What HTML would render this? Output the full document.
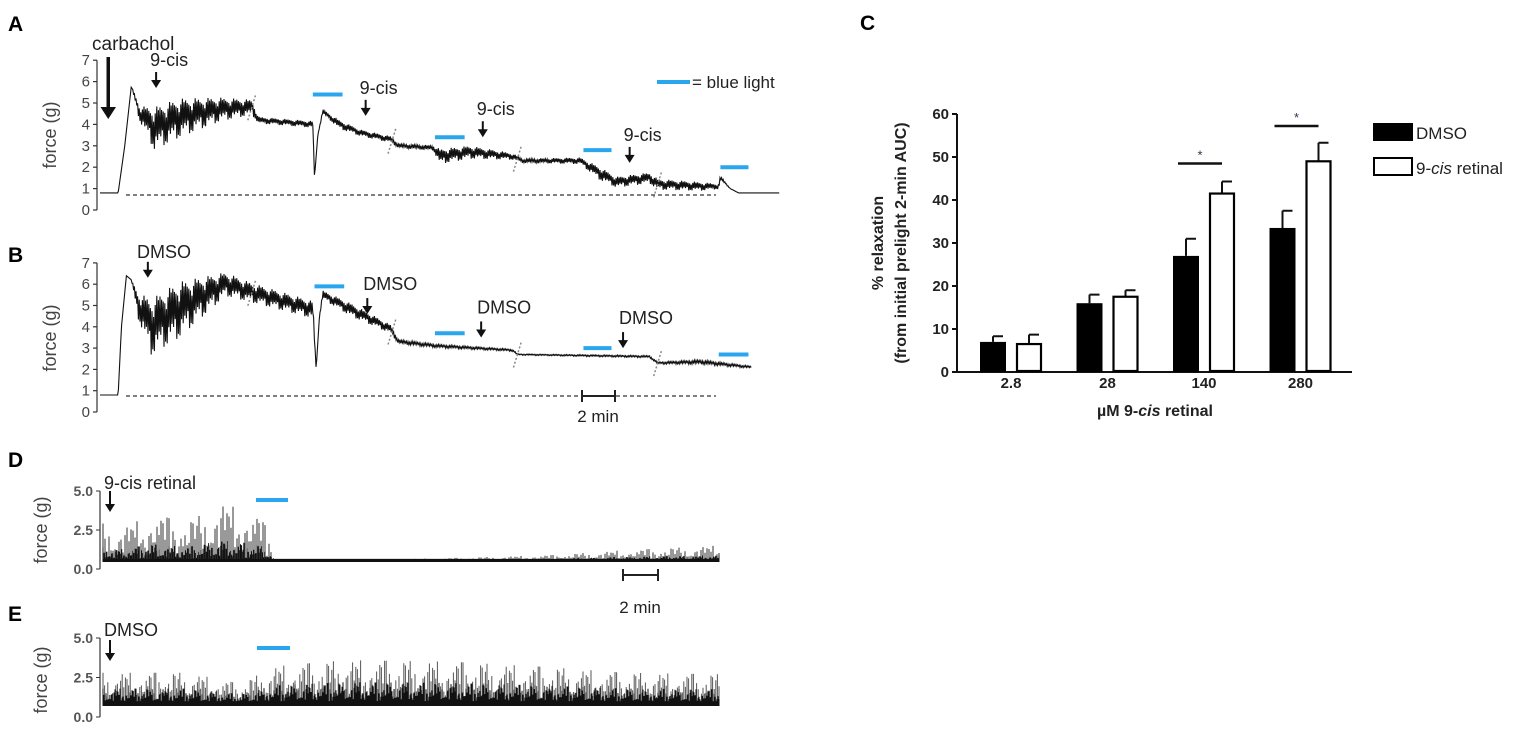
<!DOCTYPE html>
<html><head><meta charset="utf-8">
<style>
html,body{margin:0;padding:0;background:#fff;}
svg{display:block;font-family:"Liberation Sans",sans-serif;}
</style></head>
<body>
<svg id="fig" width="1535" height="733" viewBox="0 0 1535 733">
<g id="gA"></g>
<g id="gB"></g>
<g id="gC"></g>
<g id="gD"></g>
<g id="gE"></g>
</svg>
<script>
// ---------- data ----------
const aTime = [0,1.1,1.5,1.9,2.4,3.3,4.8,7.3,9.2,9.6,12.9,13.0,13.2,13.5,14.5,15.8,17.6,18.1,20.2,20.6,22.4,25.0,25.6,29.1,30.3,31.3,33.3,33.8,36.4,37.5,37.6,38.2,38.7,41.2];
const aForce = [0.8,0.8,3.0,5.8,4.5,3.8,4.3,4.7,4.8,4.2,4.0,1.5,3.5,4.6,4.0,3.6,3.3,3.0,2.9,2.5,2.7,2.5,2.3,2.3,1.7,1.3,1.5,1.2,1.1,1.1,1.5,1.0,0.8,0.8];
const aAmp = [0,0,0,0,0.35,1.0,0.9,0.55,0.35,0.15,0.15,0,0,0.1,0.2,0.15,0.15,0.1,0.12,0.35,0.3,0.15,0.1,0.15,0.3,0.25,0.25,0.25,0.2,0.12,0.1,0,0,0];
const aBreaks = [9.2,17.7,25.3,33.8];
const aLight = [[12.9,14.7],[20.3,22.1],[29.3,31.0],[37.6,39.3]];
const aLightY = [5.4,3.4,2.8,2.0];
const aArrows = [[3.4,5.7],[16.1,4.4],[23.2,3.4],[32.1,2.2]];
const bTime = [0,1.1,1.3,1.6,1.9,2.3,3.1,4.8,7.6,9.2,12.9,13.1,13.3,13.5,15.2,17.6,18.1,20.4,25.0,25.3,33.3,33.8,36.4,39.5];
const bForce = [0.8,0.8,4.0,6.4,6.2,5.0,4.0,4.8,6.0,5.6,4.8,2.0,4.5,5.5,4.8,3.9,3.3,3.1,2.9,2.7,2.6,2.3,2.35,2.1];
const bAmp = [0,0,0,0,0,0.6,1.3,1.3,0.55,0.45,0.4,0,0,0.2,0.3,0.2,0.1,0.08,0.05,0.03,0.05,0.05,0.1,0.05];
const bBreaks = [9.2,17.7,25.3,33.8];
const bLight = [[13.0,14.8],[20.3,22.1],[29.3,31.0],[37.5,39.3]];
const bLightY = [5.9,3.7,3.0,2.7];
const bArrows = [[2.9,6.3],[16.2,4.6],[23.1,3.5],[31.7,3.0]];
const cCategories = ["2.8","28","140","280"];
const cDmso = [7,16,27,33.5];
const cDmsoErr = [1.3,2,4,4];
const cCis = [6.5,17.5,41.5,49];
const cCisErr = [2.2,1.5,2.8,4.3];
const cTicks = [0,10,20,30,40,50,60];
const cSig = [[2,48.5],[3,57.2]];
const dTime = [0,1,3,5,7,9,9.5,10,12,20,26,30,35.4];
const dPeak = [3.0,2.5,3.5,3.0,4.2,3.5,2.7,0.7,0.5,0.7,0.9,1.2,1.5];
const dBase = 0.55;
const eTime = [0,5,8,10,14,20,25,30,35.4];
const ePeak = [2.8,2.8,2.1,3.2,3.6,3.5,3.2,2.8,2.7];
const eBase = 0.8;
const forceTicks = [0,1,2,3,4,5,6,7];
const smallTicks = ["0.0","2.5","5.0"];

// ---------- helpers ----------
const NS="http://www.w3.org/2000/svg";
function mk(parent,tag,attrs,text){const e=document.createElementNS(NS,tag);for(const k in attrs)e.setAttribute(k,attrs[k]);if(text!==undefined)e.textContent=text;parent.appendChild(e);return e;}
const jit=[1,0.55,0.85,0.3,0.95,0.7,0.4,1,0.6,0.8,0.35,0.9,0.5,0.75,0.25,0.65];
const BLUE="#2aa6ee";
function interp(ts,vs,t){if(t<=ts[0])return vs[0];for(let i=1;i<ts.length;i++){if(t<=ts[i]){const f=(t-ts[i-1])/((ts[i]-ts[i-1])||1);return vs[i-1]+f*(vs[i]-vs[i-1]);}}return vs[vs.length-1];}

const xA=t=>100+t*16.5;
const yA=v=>210-v*21.4;
const yB=v=>412-v*21.3;
const xD=t=>100+t*17.5;
const yD=v=>569-v*15.6;
const yE=v=>717-v*15.8;
const yC=v=>372-v*4.3;
const groupX=i=>1011+i*96.5;

function forceAxis(g,yf,nm){
  const ax=mk(g,'line',{x1:97,x2:97,y1:yf(0),y2:yf(7),stroke:'#333','stroke-width':1.2});
  
  forceTicks.forEach(v=>{
    mk(g,'line',{x1:93,x2:97,y1:yf(v),y2:yf(v),stroke:'#333','stroke-width':1.2});
    const t=mk(g,'text',{x:90,y:yf(v)+5,'text-anchor':'end','font-size':15,fill:'#444'},String(v));
    
  });
}
function trace(g,ts,fs,as,yf,nm){
  let d='',k=0;const x0=xA(ts[0]),x1=xA(ts[ts.length-1]);
  for(let x=x0;x<=x1;x+=0.8){const t=(x-100)/16.5;const m=interp(ts,fs,t),a=interp(ts,as,t);const y=yf(m+a*(k%2?1:-1)*jit[k%16]);d+=(k?'L':'M')+x.toFixed(1)+' '+y.toFixed(1);k++;}
  const p=mk(g,'path',{d:d,fill:'none',stroke:'#111','stroke-width':1.1});
  
}
function breaks(g,br,yf,fs,ts,nm){br.forEach(t=>{const x=xA(t),y=yf(interp(ts,fs,t));const l=mk(g,'line',{x1:x-4,y1:y+13,x2:x+4,y2:y-13,stroke:'#888','stroke-width':1.5,'stroke-dasharray':'2,2'});});}
function lights(g,arr,ys,yf,nm){arr.forEach((r,i)=>{const l=mk(g,'line',{x1:xA(r[0]),x2:xA(r[1]),y1:yf(ys[i]),y2:yf(ys[i]),stroke:BLUE,'stroke-width':4});});}
function arrow(g,x,y1,y2,w,nm,hs){hs=hs||4;const l=mk(g,'line',{x1:x,x2:x,y1:y1,y2:y2-6,stroke:'#111','stroke-width':w});mk(g,'path',{d:`M${x-hs-w/2} ${y2-2*hs}L${x+hs+w/2} ${y2-2*hs}L${x} ${y2}Z`,fill:'#111'});}
function lab(g,x,y,txt,size,nm,extra){const t=mk(g,'text',Object.assign({x:x,y:y,'font-size':size,fill:'#222'},extra||{}),txt);return t;}

// ---------- Panel A ----------
const gA=document.getElementById('gA');
lab(gA,8,31,'A',21,'panel-a-letter',{'font-weight':'bold',fill:'#000'});
lab(gA,56,135,'force (g)',18,'panel-a-y-axis-title',{'text-anchor':'middle',transform:'rotate(-90 56 135)',fill:'#444'});
forceAxis(gA,yA,'panel-a');
mk(gA,'line',{x1:126,x2:716,y1:195,y2:195,stroke:'#333','stroke-width':1.3,'stroke-dasharray':'4,3'});
trace(gA,aTime,aForce,aAmp,yA,'panel-a');
breaks(gA,aBreaks,yA,aForce,aTime,'panel-a');
lights(gA,aLight,aLightY,yA,'panel-a');
lab(gA,92,50,'carbachol',19,'carbachol-label');
arrow(gA,xA(0.5),57,119,3.5,'carbachol-arrow',6);
aArrows.forEach(a=>{const x=xA(a[0]);const yTip=yA(a[1]);lab(gA,x-6,yTip-22,'9-cis',18,'panel-a-9-cis-label');arrow(gA,x,yTip-16,yTip,2,'panel-a-9-cis-arrow');});
mk(gA,'line',{x1:657,x2:690,y1:82,y2:82,stroke:BLUE,'stroke-width':4});
lab(gA,692,88,'= blue light',17,'legend-blue-light-label');

// ---------- Panel B ----------
const gB=document.getElementById('gB');
lab(gB,8,262,'B',21,'panel-b-letter',{'font-weight':'bold',fill:'#000'});
lab(gB,56,338,'force (g)',18,'panel-b-y-axis-title',{'text-anchor':'middle',transform:'rotate(-90 56 338)',fill:'#444'});
forceAxis(gB,yB,'panel-b');
mk(gB,'line',{x1:126,x2:716,y1:396,y2:396,stroke:'#333','stroke-width':1.3,'stroke-dasharray':'4,3'});
trace(gB,bTime,bForce,bAmp,yB,'panel-b');
breaks(gB,bBreaks,yB,bForce,bTime,'panel-b');
lights(gB,bLight,bLightY,yB,'panel-b');
lab(gB,137,258,'DMSO',18,'panel-b-dmso-label-1');
bArrows.forEach((a,i)=>{const x=xA(a[0]);const yTip=yB(a[1]);if(i>0)lab(gB,x-4,yTip-24,'DMSO',18,'panel-b-dmso-label');arrow(gB,x,yTip-16,yTip,2,'panel-b-dmso-arrow');});
const sb=mk(gB,'path',{d:'M582 396H615M582 390V402M615 390V402',stroke:'#222','stroke-width':2,fill:'none'});
lab(gB,598,422,'2 min',17,'panel-b-scale-label',{'text-anchor':'middle'});

// ---------- Panel C ----------
const gC=document.getElementById('gC');
lab(gC,860,30,'C',21,'panel-c-letter',{'font-weight':'bold',fill:'#000'});
mk(gC,'line',{x1:957,x2:957,y1:yC(60),y2:yC(0),stroke:'#111','stroke-width':2});
mk(gC,'line',{x1:956,x2:1352,y1:yC(0),y2:yC(0),stroke:'#111','stroke-width':2});
cTicks.forEach(v=>{mk(gC,'line',{x1:952,x2:957,y1:yC(v),y2:yC(v),stroke:'#111','stroke-width':2});const t=mk(gC,'text',{x:949,y:yC(v)+5,'text-anchor':'end','font-size':15,'font-weight':'bold',fill:'#222'},String(v));});
cCategories.forEach((c,i)=>{
  const gx=groupX(i);
  const t=mk(gC,'text',{x:gx,y:388,'text-anchor':'middle','font-size':15,'font-weight':'bold',fill:'#222'},c);
  
  const x1=gx-31,x2=gx+5,w=26;
  const e1=mk(gC,'path',{d:`M${x1+w/2} ${yC(cDmso[i])}V${yC(cDmso[i]+cDmsoErr[i])}M${x1+w/2} ${yC(cDmso[i]+cDmsoErr[i])}H${x1+w/2+10}`,stroke:'#111','stroke-width':2,fill:'none'});
  
  const b1=mk(gC,'rect',{x:x1,y:yC(cDmso[i]),width:w,height:yC(0)-yC(cDmso[i]),fill:'#000'});
  
  const e2=mk(gC,'path',{d:`M${x2+w/2} ${yC(cCis[i])}V${yC(cCis[i]+cCisErr[i])}M${x2+w/2} ${yC(cCis[i]+cCisErr[i])}H${x2+w/2+10}`,stroke:'#111','stroke-width':2,fill:'none'});
  
  const b2=mk(gC,'rect',{x:x2+1,y:yC(cCis[i]),width:w-2,height:yC(0)-yC(cCis[i])-1,fill:'#fff',stroke:'#000','stroke-width':2.2});
  
});
cSig.forEach(s=>{const gx=groupX(s[0]);const l=mk(gC,'line',{x1:gx-26,x2:gx+18,y1:yC(s[1]),y2:yC(s[1]),stroke:'#111','stroke-width':2.5});lab(gC,gx-4,yC(s[1])-4,'*',13,'significance-asterisk',{'text-anchor':'middle',fill:'#335'});});
lab(gC,883,243,'% relaxation',16,'panel-c-y-axis-title',{'text-anchor':'middle','font-weight':'bold',transform:'rotate(-90 883 243)'});
lab(gC,906,243,'(from initial prelight 2-min AUC)',16,'panel-c-y-axis-subtitle',{'text-anchor':'middle','font-weight':'bold',transform:'rotate(-90 906 243)'});
const xt=lab(gC,1155,416,'',16,'panel-c-x-axis-title',{'text-anchor':'middle','font-weight':'bold'});
xt.innerHTML='µM 9-<tspan font-style="italic">cis</tspan> retinal';
mk(gC,'rect',{x:1373,y:123,width:40,height:18,fill:'#000'});
lab(gC,1416,139,'DMSO',17,'legend-dmso-label');
mk(gC,'rect',{x:1374,y:158,width:38,height:17,fill:'#fff',stroke:'#000','stroke-width':2});
const l2=lab(gC,1416,174,'',17,'legend-9-cis-label');l2.innerHTML='9-<tspan font-style="italic">cis</tspan> retinal';

// ---------- Panels D & E ----------
function smallAxis(g,yf,nm){
  const ax=mk(g,'line',{x1:100,x2:100,y1:yf(0),y2:yf(5),stroke:'#333','stroke-width':1.2});
  smallTicks.forEach(s=>{const v=parseFloat(s);mk(g,'line',{x1:96,x2:100,y1:yf(v),y2:yf(v),stroke:'#333'});const t=mk(g,'text',{x:93,y:yf(v)+5,'text-anchor':'end','font-size':14,'font-weight':'bold',fill:'#555'},s);});
}
function spikes(g,ts,ps,base,yf,step,nm,band,frac,color,sw){
  let d='',k=0;const x0=xD(ts[0])+3,x1=xD(ts[ts.length-1]);
  for(let x=x0;x<=x1;x+=step){const t=(x-100)/17.5;const p=interp(ts,ps,t);const h=base+(p-base)*frac*jit[(k*7)%16]*(k%3==1?0.6:1);d+=`M${x.toFixed(1)} ${yf(base-0.1).toFixed(1)}V${yf(h).toFixed(1)}`;k++;}
  const p=mk(g,'path',{d:d,stroke:color,'stroke-width':sw,fill:'none'});
  if(band>0){const bd=mk(g,'rect',{x:x0,y:yf(base+band),width:x1-x0,height:yf(base-0.1)-yf(base+band),fill:'#111'});}
}
const gD=document.getElementById('gD');
lab(gD,8,467,'D',21,'panel-d-letter',{'font-weight':'bold',fill:'#000'});
lab(gD,47,530,'force (g)',18,'panel-d-y-axis-title',{'text-anchor':'middle',transform:'rotate(-90 47 530)',fill:'#444'});
smallAxis(gD,yD,'panel-d');
spikes(gD,dTime,dPeak,dBase,yD,2.0,'panel-d',0.1,1,'#333',1);
spikes(gD,dTime,dPeak,dBase,yD,1.1,'panel-d-dense',0,0.35,'#111',1);
lab(gD,104,489,'9-cis retinal',18,'panel-d-9-cis-label');
arrow(gD,110,491,512,2,'panel-d-arrow');
mk(gD,'line',{x1:256,x2:288,y1:500,y2:500,stroke:BLUE,'stroke-width':4});
mk(gD,'path',{d:'M623 575H658M623 569V581M658 569V581',stroke:'#222','stroke-width':2,fill:'none'});
lab(gD,640,613,'2 min',17,'panel-d-scale-label',{'text-anchor':'middle'});

const gE=document.getElementById('gE');
lab(gE,8,621,'E',21,'panel-e-letter',{'font-weight':'bold',fill:'#000'});
lab(gE,47,680,'force (g)',18,'panel-e-y-axis-title',{'text-anchor':'middle',transform:'rotate(-90 47 680)',fill:'#444'});
smallAxis(gE,yE,'panel-e');
spikes(gE,eTime,ePeak,eBase,yE,1.6,'panel-e',0.2,1,'#555',1);
spikes(gE,eTime,ePeak,eBase,yE,1.0,'panel-e-dense',0,0.5,'#111',1);
lab(gE,104,636,'DMSO',18,'panel-e-dmso-label');
arrow(gE,110,640,661,2,'panel-e-arrow');
mk(gE,'line',{x1:257,x2:290,y1:648,y2:648,stroke:BLUE,'stroke-width':4});
</script>
</body></html>
